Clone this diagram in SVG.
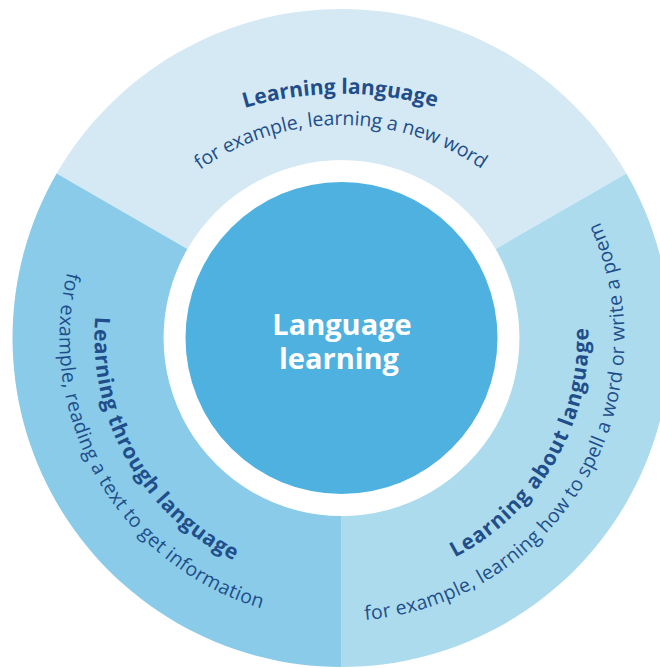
<svg xmlns="http://www.w3.org/2000/svg" width="660" height="668" viewBox="0 0 660 668">
  <style>
    .title { font-family: "Open Sans", "Noto Sans", "Liberation Sans", sans-serif; font-weight: 700; font-size: 21px; fill: #1f4e8a; }
    .sub { font-family: "Open Sans", "Noto Sans", "Liberation Sans", sans-serif; font-weight: 400; font-size: 19.5px; fill: #1f4e8a; }
    .center { font-family: "Open Sans", "Noto Sans", "Liberation Sans", sans-serif; font-weight: 700; font-size: 29px; fill: #ffffff; text-anchor: middle; }
  </style>
  <defs>
    <path id="pTopTitle" d="M244.5,108 A340,340 0 0 1 438.5,108"/>
    <path id="pTopSub" d="M200,170 A245,245 0 0 1 483,170"/>
    <path id="pLeftTitle" d="M95.4,316.5 A247,247 0 0 0 237.1,561.9"/>
    <path id="pLeftSub" d="M67.3,272.2 A282,282 0 0 0 262.3,608.7"/>
    <path id="pRightTitle" d="M454.8,557.5 A247,247 0 0 0 588.3,328.1"/>
    <path id="pRightSub" d="M365.2,620 A283,283 0 0 0 599,220.6"/>
  </defs>
  <rect width="660" height="668" fill="#ffffff"/>
  <g id="learning-language">
    <path d="M56.6,173.5 A329,329 0 0 1 626.4,173.5 L495.6,249 A178,178 0 0 0 187.4,249 Z" fill="#d4e9f4"/>
    <text class="title"><textPath href="#pTopTitle" textLength="194">Learning language</textPath></text>
    <text class="sub"><textPath href="#pTopSub" textLength="300">for example, learning a new word</textPath></text>
  </g>
  <g id="learning-about-language">
    <path d="M626.4,173.5 A329,329 0 0 1 341.5,667 L341.5,516 A178,178 0 0 0 495.6,249 Z" fill="#acdbed"/>
    <text class="title"><textPath href="#pRightTitle" textLength="280">Learning about language</textPath></text>
    <text class="sub"><textPath href="#pRightSub" textLength="540">for example, learning how to spell a word or write a poem</textPath></text>
  </g>
  <g id="learning-through-language">
    <path d="M341.5,667 A329,329 0 0 1 56.6,173.5 L187.4,249 A178,178 0 0 0 341.5,516 Z" fill="#89cbe8"/>
    <text class="title"><textPath href="#pLeftTitle" textLength="298">Learning through language</textPath></text>
    <text class="sub"><textPath href="#pLeftSub" textLength="428">for example, reading a text to get information</textPath></text>
  </g>
  <g id="language-learning">
    <circle cx="341.5" cy="338" r="156" fill="#4fb1e0"/>
    <text class="center" x="342" y="335">Language</text>
    <text class="center" x="339" y="369">learning</text>
  </g>
  <g id="connectors"/>
</svg>
